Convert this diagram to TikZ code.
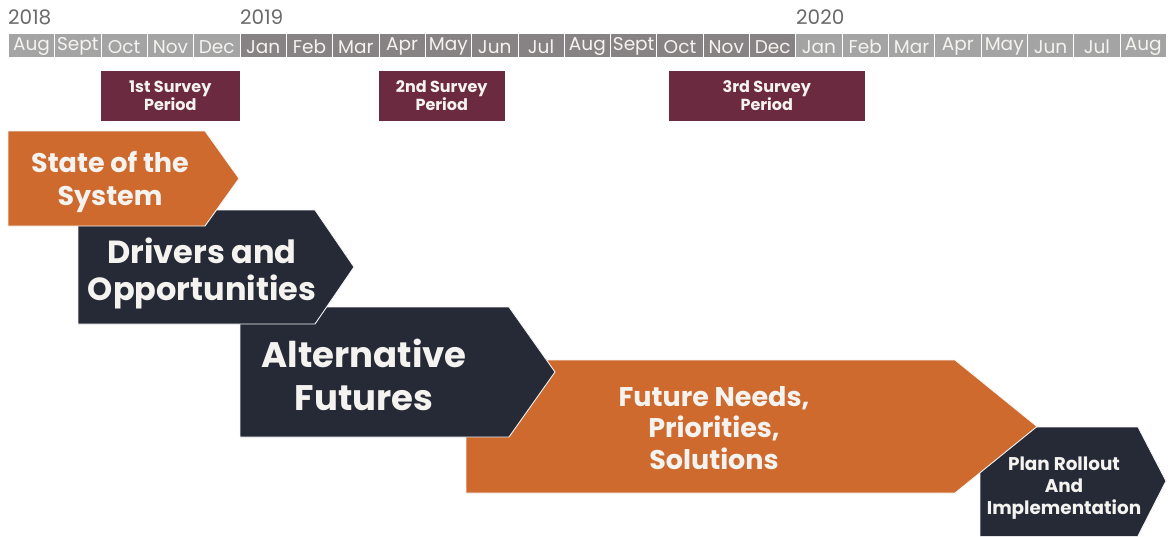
\documentclass[tikz,border=0pt]{standalone}
\usepackage{fontspec}
\setmainfont{Poppins}
\definecolor{orng}{HTML}{CF6A2F}
\definecolor{navy}{HTML}{262A37}
\definecolor{maroon}{HTML}{6C2A40}
\definecolor{glight}{HTML}{A4A4A4}
\definecolor{gdark}{HTML}{878384}
\definecolor{txtw}{HTML}{F5F3F0}
\definecolor{yeargray}{HTML}{6A6A6A}
\begin{document}
\begin{tikzpicture}[x=1pt,y=-1pt,
  monthcell/.style={draw=white,line width=0.7pt,inner sep=0pt,minimum width=46.32pt,minimum height=24pt,anchor=north west,fill=#1},
  monthtxt/.style={text=txtw,inner sep=0pt,font=\fontsize{18.5}{20}\selectfont},
  yearlbl/.style={anchor=west,inner sep=0pt,text=yeargray,font=\fontsize{20}{22}\selectfont},
  survey/.style={fill=maroon,draw=white,line width=0.5pt,inner sep=0pt,minimum height=51pt,anchor=north west,text=txtw,align=center,font=\bfseries\fontsize{16}{18}\selectfont},
  chev/.style={draw=white!92!gray,line width=0.9pt,line join=miter},
  chevtxt/.style={text=txtw,align=center,inner sep=0pt}
]
\useasboundingbox[fill=white] (0,0) rectangle (1169,536);
% years
\node[yearlbl] (y18) at (8,17.5) {2018};
\node[yearlbl] (y19) at (240,17.5) {2019};
\node[yearlbl] (y20) at (796,17.5) {2020};
% months
\foreach \m [count=\i from 0] in {Aug,Sept,Oct,Nov,Dec,Jan,Feb,Mar,Apr,May,Jun,Jul,Aug,Sept,Oct,Nov,Dec,Jan,Feb,Mar,Apr,May,Jun,Jul,Aug}{
  \pgfmathsetmacro\xa{8+\i*46.32}
  \ifnum\i<5 \def\cc{glight}\else\ifnum\i>16 \def\cc{glight}\else\def\cc{gdark}\fi\fi
  \node[monthcell=\cc] (m\i) at (\xa,33) {};
  \node[monthtxt] (mt\i) at ([yshift=-1.5pt]m\i.center) {\m};
}
% survey periods
\node[survey,minimum width=140pt] (s1) at (100,70) {1st Survey\\Period};
\node[survey,minimum width=127pt] (s2) at (378,70) {2nd Survey\\Period};
\node[survey,minimum width=197pt] (s3) at (668,70) {3rd Survey\\Period};
% chevrons (bottom-most first)
\fill[navy] (980,427) -- (1138,427) -- (1166,481) -- (1138,536) -- (980,536) -- cycle;
\draw[chev] (980,536) -- (980,427) -- (1138,427) -- (1166,481) -- (1138,536);
\filldraw[fill=orng,chev] (466,360) -- (955,360) -- (1037,426.5) -- (955,493) -- (466,493) -- cycle;
\filldraw[fill=navy,chev] (240,307) -- (509,307) -- (555,372) -- (509,437) -- (240,437) -- cycle;
\filldraw[fill=navy,chev] (78,210) -- (315,210) -- (354,267) -- (315,324) -- (78,324) -- cycle;
\filldraw[fill=orng,chev] (8,131) -- (205,131) -- (239,178.5) -- (205,226) -- (8,226) -- cycle;
% texts
\node[chevtxt,font=\bfseries\fontsize{27}{33}\selectfont] (t1) at (110,181.5) {State of the\\System};
\node[chevtxt,font=\bfseries\fontsize{32}{37}\selectfont] (t2) at (202,273) {Drivers and\\Opportunities};
\node[chevtxt,font=\bfseries\fontsize{35.5}{43}\selectfont] (t3) at (364,375) {Alternative\\Futures};
\node[chevtxt,font=\bfseries\fontsize{27}{31.5}\selectfont] (t4) at (714,428) {Future Needs,\\Priorities,\\Solutions};
\node[chevtxt,font=\bfseries\fontsize{18.4}{22}\selectfont] (t5) at (1064,488) {Plan Rollout\\And\\Implementation};
\end{tikzpicture}
\end{document}
